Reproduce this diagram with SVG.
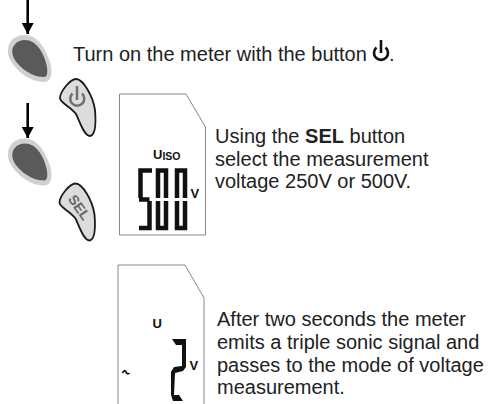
<svg xmlns="http://www.w3.org/2000/svg" width="496" height="404" viewBox="0 0 496 404">
<defs>
<marker id="ah" markerUnits="userSpaceOnUse" markerWidth="14" markerHeight="12" refX="11" refY="6" orient="auto"><path d="M0 0L11 6L0 12Z" fill="#000"/></marker>
<path id="blob" d="M25 35C13 35 7 43 8 53C9 64 26 82 44 82C52 82 53 72 50 62C46 50 38 35 25 35Z"/>
<path id="inner" d="M25 40C16 40 11 47 12.500 54C14 63 29 77 44 77C48 77 48 70 46 63C43 52 36 40 25 40Z"/>
<path id="key" d="M76 79C70 79 60 92 60 98C60 103 70 106 76 114C80 122 84 136 90 136C96 135 96 122 95 110C93 96 83 79 76 79Z"/>
<path id="zero" d="M2.500 198V170.500H10.500V198M2.500 201V228H10.500V201"/>
</defs>
<style>
.t{font:20px "Liberation Sans",Arial,sans-serif;fill:#222}
.b{fill:#d0d0d0}.i{fill:#5a5a5a}
.k{fill:#dcdcdc;stroke:#1a1a1a;stroke-width:1.800}
.lcd{fill:#fff;stroke:#888;stroke-width:1}
.d{fill:none;stroke:#111;stroke-width:4.500}
.f{fill:#111}
.l{font:bold 13px "Liberation Sans",Arial,sans-serif;fill:#111}
</style>
<rect width="496" height="404" fill="#fff"/>
<g id="connectors" stroke="#000" stroke-width="2.600" fill="none">
<path d="M27.700 0V34" marker-end="url(#ah)"/>
<path d="M27.700 103V138" marker-end="url(#ah)"/>
</g>
<g id="press-1"><use href="#blob" class="b"/><use href="#inner" class="i"/></g>
<g id="press-2"><use href="#blob" class="b" y="103.500"/><use href="#inner" class="i" y="103.500"/></g>
<g id="power-key"><use href="#key" class="k"/><g fill="none" stroke="#707070" stroke-width="2.500"><path d="M72.500 93.500A7 7 0 1 0 82 93.500"/><path d="M77 86V100"/></g></g>
<g id="sel-key"><use href="#key" class="k" transform="translate(-0.500 104.500)"/><text transform="translate(67.500 199) rotate(55)" font-family="Liberation Sans" font-weight="bold" font-size="14" fill="#666">SEL</text></g>
<g id="step-1"><text class="t" x="73" y="60.500">Turn on the meter with the button</text>
<g fill="none" stroke="#111" stroke-width="2.600"><path d="M376.500 47.500A7 7 0 1 0 385.500 47.500"/><path d="M381 40V53"/></g><text class="t" x="389" y="60.500">.</text></g>
<g id="lcd-1"><path class="lcd" d="M119.500 94H186L205.500 127V235H119.500Z"/>
<text class="l" x="153" y="159" font-size="14">U<tspan font-size="10.500" dy="1">ISO</tspan></text>
<path class="d" d="M152 170.500H140.500V198M139 199.500H149.500M149.500 201V228H139"/>
<use href="#zero" class="d" x="155.500"/>
<use href="#zero" class="d" x="174.500"/>
<text class="l" x="190.500" y="198" font-size="12">V</text></g>
<g id="text-2"><text class="t" x="215" y="143">Using the <tspan font-weight="bold">SEL</tspan> button</text><text class="t" x="215" y="165.500">select the measurement</text><text class="t" x="215" y="188">voltage 250V or 500V.</text></g>
<g id="lcd-2"><path class="lcd" d="M118 404V265H185L204 298V404"/>
<text class="l" x="152.500" y="328" font-size="14">U</text>
<path class="f" d="M172 339H186V367L183 371L175 373L174 395H179L183 401H173L171 395V372L174 367L182 366V345H176Z"/>
<text class="l" x="189.500" y="370" font-size="12">V</text>
<path d="M122.500 373Q124.500 369 126 372T129.500 373" fill="none" stroke="#111" stroke-width="1.700"/></g>
<g id="text-3"><text class="t" x="217" y="326">After two seconds the meter</text><text class="t" x="217" y="349">emits a triple sonic signal and</text><text class="t" x="217" y="372">passes to the mode of voltage</text><text class="t" x="217" y="394">measurement.</text></g>
</svg>
